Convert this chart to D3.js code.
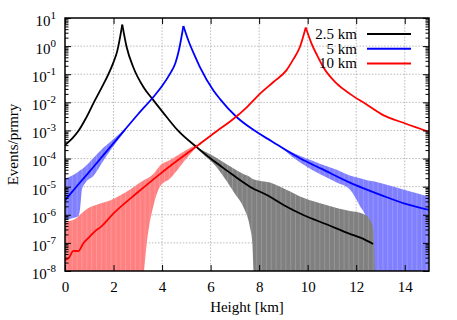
<!doctype html>
<html>
<head>
<meta charset="UTF-8">
<title>Events per primary vs height</title>
<script src="https://d3js.org/d3.v7.min.js"></script>
<style>
    body { margin: 0; background: #fff; }
    svg text { font-family: "Liberation Serif", "DejaVu Serif", serif; }
</style>
</head>
<body>
<svg id="chart" width="457" height="320"></svg>
<script>
    // legend / series
    var seriesNames = ["2.5 km", "5 km", "10 km"];
    var lineColors = ["#000000", "#0000ff", "#ff0000"];
    var bandColors = ["#808080", "#8080ff", "#ff8080"];

    // ticks
    var xTicks = [0, 2, 4, 6, 8, 10, 12, 14];
    var yTicks = [1e-8, 1e-7, 1e-6, 1e-5, 1e-4, 1e-3, 1e-2, 1e-1, 1, 10];
    var yTickExp = ["-8", "-7", "-6", "-5", "-4", "-3", "-2", "-1", "0", "1"];

    // 2.5 km
    var heights25 = [0, 0.3, 0.55, 0.85, 1.19, 1.5, 1.79, 2.0, 2.15, 2.36, 2.54, 2.81, 3.23, 3.64, 4.19, 4.65, 5.49, 6.0, 6.66, 7.62, 8.45, 9.1, 9.82, 10.8, 11.74, 12.2, 12.7];
    var events25 = [3.0e-4, 5.2e-4, 9.5e-4, 2.6e-3, 1.0e-2, 3.2e-2, 1.0e-1, 2.7e-1, 6.5e-1, 5.8, 9.3e-1, 1.8e-1, 3.5e-2, 1.2e-2, 3.0e-3, 1.0e-3, 2.3e-4, 1.0e-4, 3.8e-5, 1.0e-5, 4.4e-6, 2.0e-6, 9.8e-7, 4.5e-7, 2.1e-7, 1.5e-7, 9.1e-8];
    var bandHeights25 = [5.45, 5.7, 6.2, 6.66, 7.0, 7.35, 7.62, 7.72, 7.78, 8.45, 9.1, 9.82, 10.8, 11.74, 12.3, 12.55, 12.7, 12.78];
    var bandLow25 = [2.2e-4, 1.4e-4, 5.6e-5, 1.6e-5, 5.6e-6, 1.9e-6, 3.7e-7, 1.0e-7, 0, 0, 0, 0, 0, 0, 0, 0, 0, 0];
    var bandHigh25 = [2.4e-4, 1.9e-4, 1.12e-4, 6.3e-5, 4.2e-5, 2.8e-5, 2.2e-5, 1.9e-5, 1.8e-5, 1.4e-5, 7.9e-6, 4.0e-6, 2.2e-6, 1.35e-6, 1.07e-6, 7.1e-7, 3.2e-7, 0];

    // 5 km
    var heights5 = [0, 0.6, 1.17, 1.8, 2.47, 3.0, 3.64, 4.0, 4.33, 4.55, 4.7, 4.88, 5.08, 5.3, 5.56, 6.11, 6.39, 7.07, 7.76, 8.5, 9.7, 10.6, 11.74, 12.57, 13.11, 14.0, 15.0];
    var events5 = [3.3e-6, 1.35e-5, 5.0e-5, 2.2e-4, 1.07e-3, 3.7e-3, 1.55e-2, 3.8e-2, 1.05e-1, 2.5e-1, 7.6e-1, 5.2, 1.62, 5.6e-1, 1.8e-1, 2.7e-2, 1.3e-2, 3.0e-3, 1.05e-3, 4.2e-4, 1.0e-4, 4.2e-5, 1.4e-5, 7.1e-6, 4.7e-6, 2.5e-6, 1.5e-6];
    var bandHeights5 = [0, 0.3, 0.55, 0.62, 0.7, 0.85, 1.17, 1.6, 2.0, 2.5, null, 8.8, 9.4, 10.5, 11.2, 11.74, 12.16, 12.45, 12.62, 12.72, 13.11, 14.0, 15.0];
    var bandLow5 = [6.5e-7, 7.6e-7, 8.9e-7, 1.6e-6, 7.9e-6, 1.4e-5, 2.4e-5, 8.9e-5, 2.8e-4, 1.02e-3, null, 2.9e-4, 1.1e-4, 2.8e-5, 1.4e-5, 7.9e-6, 2.0e-6, 6.3e-7, 1.3e-7, 0, 0, 0, 0];
    var bandHigh5 = [1.95e-5, 2.5e-5, 3.4e-5, 3.8e-5, 4.2e-5, 5.4e-5, 1.05e-4, 2.5e-4, 5.0e-4, 1.17e-3, null, 2.9e-4, 1.6e-4, 6.6e-5, 4.0e-5, 2.5e-5, 2.0e-5, 1.7e-5, 1.6e-5, 1.55e-5, 1.26e-5, 7.6e-6, 4.4e-6];

    // 10 km
    var heights10 = [0, 0.14, 0.35, 0.55, 0.75, 1.0, 1.3, 1.44, 1.99, 3.0, 3.91, 4.74, 5.49, 6.29, 6.87, 7.5, 8.03, 8.6, 9.13, 9.4, 9.68, 9.92, 10.16, 10.4, 10.64, 11.19, 11.74, 12.4, 13.11, 14.0, 15.0];
    var events10 = [2.45e-8, 2.8e-8, 5.2e-8, 5.1e-8, 9.5e-8, 1.6e-7, 2.9e-7, 3.5e-7, 1.1e-6, 6.3e-6, 2.8e-5, 1.0e-4, 3.0e-4, 1.0e-3, 2.3e-3, 6.8e-3, 2.0e-2, 5.4e-2, 1.4e-1, 3.3e-1, 9.3e-1, 4.6, 1.23, 4.5e-1, 1.8e-1, 4.7e-2, 2.0e-2, 8.7e-3, 3.5e-3, 1.8e-3, 8.9e-4];
    var bandHeights10 = [0, 0.45, 0.62, 0.9, 1.4, 1.85, 2.5, 3.23, 3.3, 3.37, 3.45, 3.64, 3.91, 4.33, 5.0, 5.45];
    var bandLow10 = [0, 0, 0, 0, 0, 0, 0, 0, 2.5e-8, 1.0e-7, 3.2e-7, 2.0e-6, 1.0e-5, 1.95e-5, 1.0e-4, 2.75e-4];
    var bandHigh10 = [5.6e-7, 7.4e-7, 1.0e-6, 1.6e-6, 2.4e-6, 3.2e-6, 6.3e-6, 1.66e-5, 1.8e-5, 1.9e-5, 2.1e-5, 2.8e-5, 5.6e-5, 8.9e-5, 2.0e-4, 3.2e-4];

    var margin = { top: 18, right: 28, bottom: 49, left: 65 };
    var W = 457, H = 320;
    var w = W - margin.left - margin.right;
    var h = H - margin.top - margin.bottom;

    var svg = d3.select("#chart");
    var g = svg.append("g").attr("transform", "translate(" + margin.left + "," + margin.top + ")");

    var x = d3.scaleLinear().domain([0, 15]).range([0, w]);
    var y = d3.scaleLog().domain([1e-8, 10]).range([h, 0]);

    // zero lower edges fall off the bottom of the plot
    function yv(v) {
        return v > 1e-10 ? y(v) : h + 3;
    }

    g.append("clipPath").attr("id", "plotclip")
        .append("rect").attr("width", w).attr("height", h);

    // dotted grid
    var grid = g.append("g");
    grid.selectAll("line.gx").data(xTicks.slice(1)).enter().append("line")
        .attr("x1", function (d) { return x(d); })
        .attr("x2", function (d) { return x(d); })
        .attr("y1", 0).attr("y2", h);
    grid.selectAll("line.gy").data(yTicks.slice(1, -1)).enter().append("line")
        .attr("x1", 0).attr("x2", w)
        .attr("y1", function (d) { return y(d); })
        .attr("y2", function (d) { return y(d); });
    grid.selectAll("line")
        .attr("stroke", "#a8a8a8")
        .attr("stroke-width", 0.8)
        .attr("stroke-dasharray", "1.5,1.6");

    var plot = g.append("g").attr("clip-path", "url(#plotclip)");

    function drawBand(xs, lo, hi, color, i) {
        var pts = xs.map(function (d, k) { return { x: d, lo: lo[k], hi: hi[k] }; });
        var area = d3.area()
            .defined(function (d) { return d.x !== null; })
            .curve(d3.curveMonotoneX)
            .x(function (d) { return x(d.x); })
            .y0(function (d) { return yv(d.lo); })
            .y1(function (d) { return yv(d.hi); });
        var path = area(pts);
        plot.append("path").attr("d", path).attr("fill", color);
        // faint bin seams
        plot.append("clipPath").attr("id", "band" + i).append("path").attr("d", path);
        plot.append("g").attr("clip-path", "url(#band" + i + ")")
            .selectAll("line").data(d3.range(0.1, 15, 0.2)).enter().append("line")
            .attr("x1", function (d) { return x(d); })
            .attr("x2", function (d) { return x(d); })
            .attr("y1", 0).attr("y2", h)
            .attr("stroke", "#ffffff")
            .attr("stroke-opacity", 0.22)
            .attr("stroke-width", 0.8);
    }

    drawBand(bandHeights5, bandLow5, bandHigh5, bandColors[1], 1);
    drawBand(bandHeights10, bandLow10, bandHigh10, bandColors[2], 2);
    drawBand(bandHeights25, bandLow25, bandHigh25, bandColors[0], 0);

    var line = d3.line()
        .curve(d3.curveMonotoneX)
        .x(function (d) { return x(d[0]); })
        .y(function (d) { return y(d[1]); });

    var lines = [
        d3.zip(heights25, events25),
        d3.zip(heights5, events5),
        d3.zip(heights10, events10)
    ];
    lines.forEach(function (pts, i) {
        // split at the peak so the cusp stays sharp
        var k = d3.maxIndex(pts, function (d) { return d[1]; });
        [pts.slice(0, k + 1), pts.slice(k)].forEach(function (seg) {
            plot.append("path")
                .attr("d", line(seg))
                .attr("fill", "none")
                .attr("stroke", lineColors[i])
                .attr("stroke-width", 1.8)
                .attr("stroke-linejoin", "miter");
        });
    });

    // minor log ticks
    var minor = [];
    for (var e = -8; e < 1; e++) {
        for (var m = 2; m <= 9; m++) minor.push(m * Math.pow(10, e));
    }

    function styleAxis(sel) {
        sel.select(".domain").remove();
        sel.attr("font-family", null).attr("font-size", 15);
        sel.selectAll(".tick line").attr("stroke", "#000").attr("stroke-width", 1);
    }

    g.append("g").call(d3.axisLeft(y).tickValues(minor).tickSize(-3.5).tickFormat("")).call(styleAxis);
    g.append("g").attr("transform", "translate(" + w + ",0)")
        .call(d3.axisRight(y).tickValues(minor).tickSize(-3.5).tickFormat("")).call(styleAxis);
    g.append("g").attr("transform", "translate(" + w + ",0)")
        .call(d3.axisRight(y).tickValues(yTicks).tickSize(-6).tickFormat("")).call(styleAxis);
    g.append("g").call(d3.axisTop(x).tickValues(xTicks).tickSize(-6).tickFormat("")).call(styleAxis);

    var yAxis = g.append("g")
        .call(d3.axisLeft(y).tickValues(yTicks).tickSize(-6).tickPadding(9).tickFormat(""))
        .call(styleAxis);
    yAxis.selectAll(".tick text").each(function (d, i) {
        var t = d3.select(this).attr("dy", "0.49em");
        t.append("tspan").text("10");
        t.append("tspan").attr("dy", -7).attr("font-size", 11).text(yTickExp[i]);
    });

    g.append("g").attr("transform", "translate(0," + h + ")")
        .call(d3.axisBottom(x).tickValues(xTicks).tickSize(-6).tickPadding(10))
        .call(styleAxis);

    // frame
    g.append("rect").attr("width", w).attr("height", h)
        .attr("fill", "none").attr("stroke", "#000").attr("stroke-width", 1.5);

    // titles
    svg.append("text")
        .attr("x", margin.left + w / 2).attr("y", 312)
        .attr("text-anchor", "middle").attr("font-size", 15)
        .text("Height [km]");
    svg.append("text")
        .attr("transform", "translate(18," + (margin.top + h / 2) + ") rotate(-90)")
        .attr("text-anchor", "middle").attr("font-size", 15)
        .text("Events/prmry");

    // legend
    var legend = svg.append("g");
    seriesNames.forEach(function (name, i) {
        var by = 39 + i * 14.7;
        legend.append("text")
            .attr("x", 357).attr("y", by)
            .attr("text-anchor", "end").attr("font-size", 15)
            .text(name);
        legend.append("line")
            .attr("x1", 367).attr("x2", 411)
            .attr("y1", by - 5).attr("y2", by - 5)
            .attr("stroke", lineColors[i]).attr("stroke-width", 2);
    });
</script>
</body>
</html>
